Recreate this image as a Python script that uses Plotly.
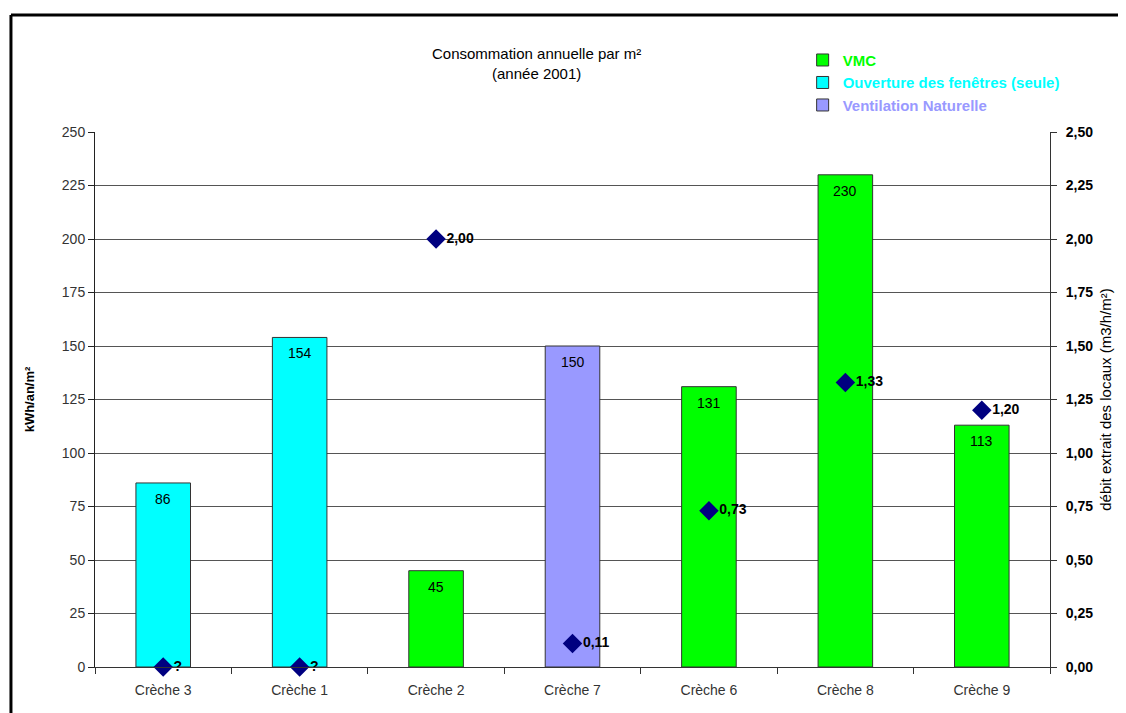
import plotly.graph_objects as go

# Data
creches = ['Crèche 3', 'Crèche 1', 'Crèche 2', 'Crèche 7', 'Crèche 6', 'Crèche 8', 'Crèche 9']
consommation = [86, 154, 45, 150, 131, 230, 113]
ventilation = ['Ouverture', 'Ouverture', 'VMC', 'Naturelle', 'VMC', 'VMC', 'VMC']
debit = [0, 0, 2.00, 0.11, 0.73, 1.33, 1.20]
debit_labels = ['?', '?', '2,00', '0,11', '0,73', '1,33', '1,20']

types = [
    ('VMC', 'VMC', '#00FF00'),
    ('Ouverture', 'Ouverture des fenêtres (seule)', '#00FFFF'),
    ('Naturelle', 'Ventilation Naturelle', '#9999FF'),
]

FONT = 'Arial, Liberation Sans, sans-serif'

fig = go.Figure()

for key, label, color in types:
    xs = [c for c, t in zip(creches, ventilation) if t == key]
    ys = [v for v, t in zip(consommation, ventilation) if t == key]
    fig.add_trace(go.Bar(
        x=xs,
        y=ys,
        width=0.4,
        name=f'<span style="color:{color}"><b>{label}</b></span>',
        marker=dict(color=color, line=dict(color='#333333', width=1)),
    ))

# value labels just under the top of each bar
for c, v in zip(creches, consommation):
    fig.add_annotation(
        x=c, y=v, yanchor='top', yshift=-6,
        text=str(v), showarrow=False,
        font=dict(family=FONT, size=14, color='black'),
    )

fig.add_trace(go.Scatter(
    x=creches,
    y=debit,
    yaxis='y2',
    mode='markers+text',
    marker=dict(symbol='diamond', size=15, color='#000080'),
    text=debit_labels,
    textposition='middle right',
    textfont=dict(family=FONT, size=14, color='black', weight='bold'),
    cliponaxis=False,
    showlegend=False,
))

fig.update_layout(
    width=1126,
    height=713,
    barmode='overlay',
    separators=', ',
    paper_bgcolor='white',
    plot_bgcolor='white',
    font=dict(family=FONT, size=13, color='black'),
    margin=dict(l=87, r=84, t=124, b=54),
    legend=dict(
        x=0.741, xanchor='left', y=1.165, yanchor='top',
        bgcolor='rgba(0,0,0,0)',
        font=dict(family=FONT, size=15),
        itemwidth=30,
        tracegroupgap=0,
    ),
    xaxis=dict(
        categoryorder='array',
        categoryarray=creches,
        showline=True, linecolor='#333333', linewidth=1,
        ticks='outside', tickson='boundaries', ticklen=6, tickcolor='#333333',
        ticklabelstandoff=10,
        tickfont=dict(family=FONT, size=14, color='#333333'),
        showgrid=False,
    ),
    yaxis=dict(
        range=[0, 250], dtick=25,
        showline=True, linecolor='#222222', linewidth=1,
        ticks='outside', ticklen=6, tickcolor='#222222',
        showgrid=True, gridcolor='#555555', gridwidth=1,
        zeroline=False,
        tickfont=dict(family=FONT, size=14, color='#333333'),
        title=dict(text='<b>kWh/an/m²</b>', font=dict(family=FONT, size=13), standoff=24),
    ),
    yaxis2=dict(
        overlaying='y', side='right',
        range=[0, 2.5], dtick=0.25, tickformat='.2f',
        showline=True, linecolor='#333333', linewidth=1,
        ticks='outside', ticklen=6, tickcolor='#333333',
        ticklabelstandoff=6,
        showgrid=False, zeroline=False,
        tickfont=dict(family=FONT, size=14, color='black', weight='bold'),
        title=dict(text='débit extrait des locaux (m3/h/m²)', font=dict(family=FONT, size=15), standoff=8),
    ),
)

# Title as an annotation centred over the chart
fig.add_annotation(
    xref='paper', yref='paper', x=0.462, y=1.128,
    xanchor='center', yanchor='middle',
    text='Consommation annuelle par m²<br>(année 2001)',
    showarrow=False,
    font=dict(family=FONT, size=15, color='black'),
)

# Outer frame (left and top borders of the original image)
fig.add_shape(type='line', xref='paper', yref='paper',
              x0=-0.088, x1=-0.088, y0=-0.12, y1=1.2187,
              line=dict(color='black', width=3))
fig.add_shape(type='line', xref='paper', yref='paper',
              x0=-0.088, x1=1.1, y0=1.2187, y1=1.2187,
              line=dict(color='black', width=3))

fig.write_html('out.html')
